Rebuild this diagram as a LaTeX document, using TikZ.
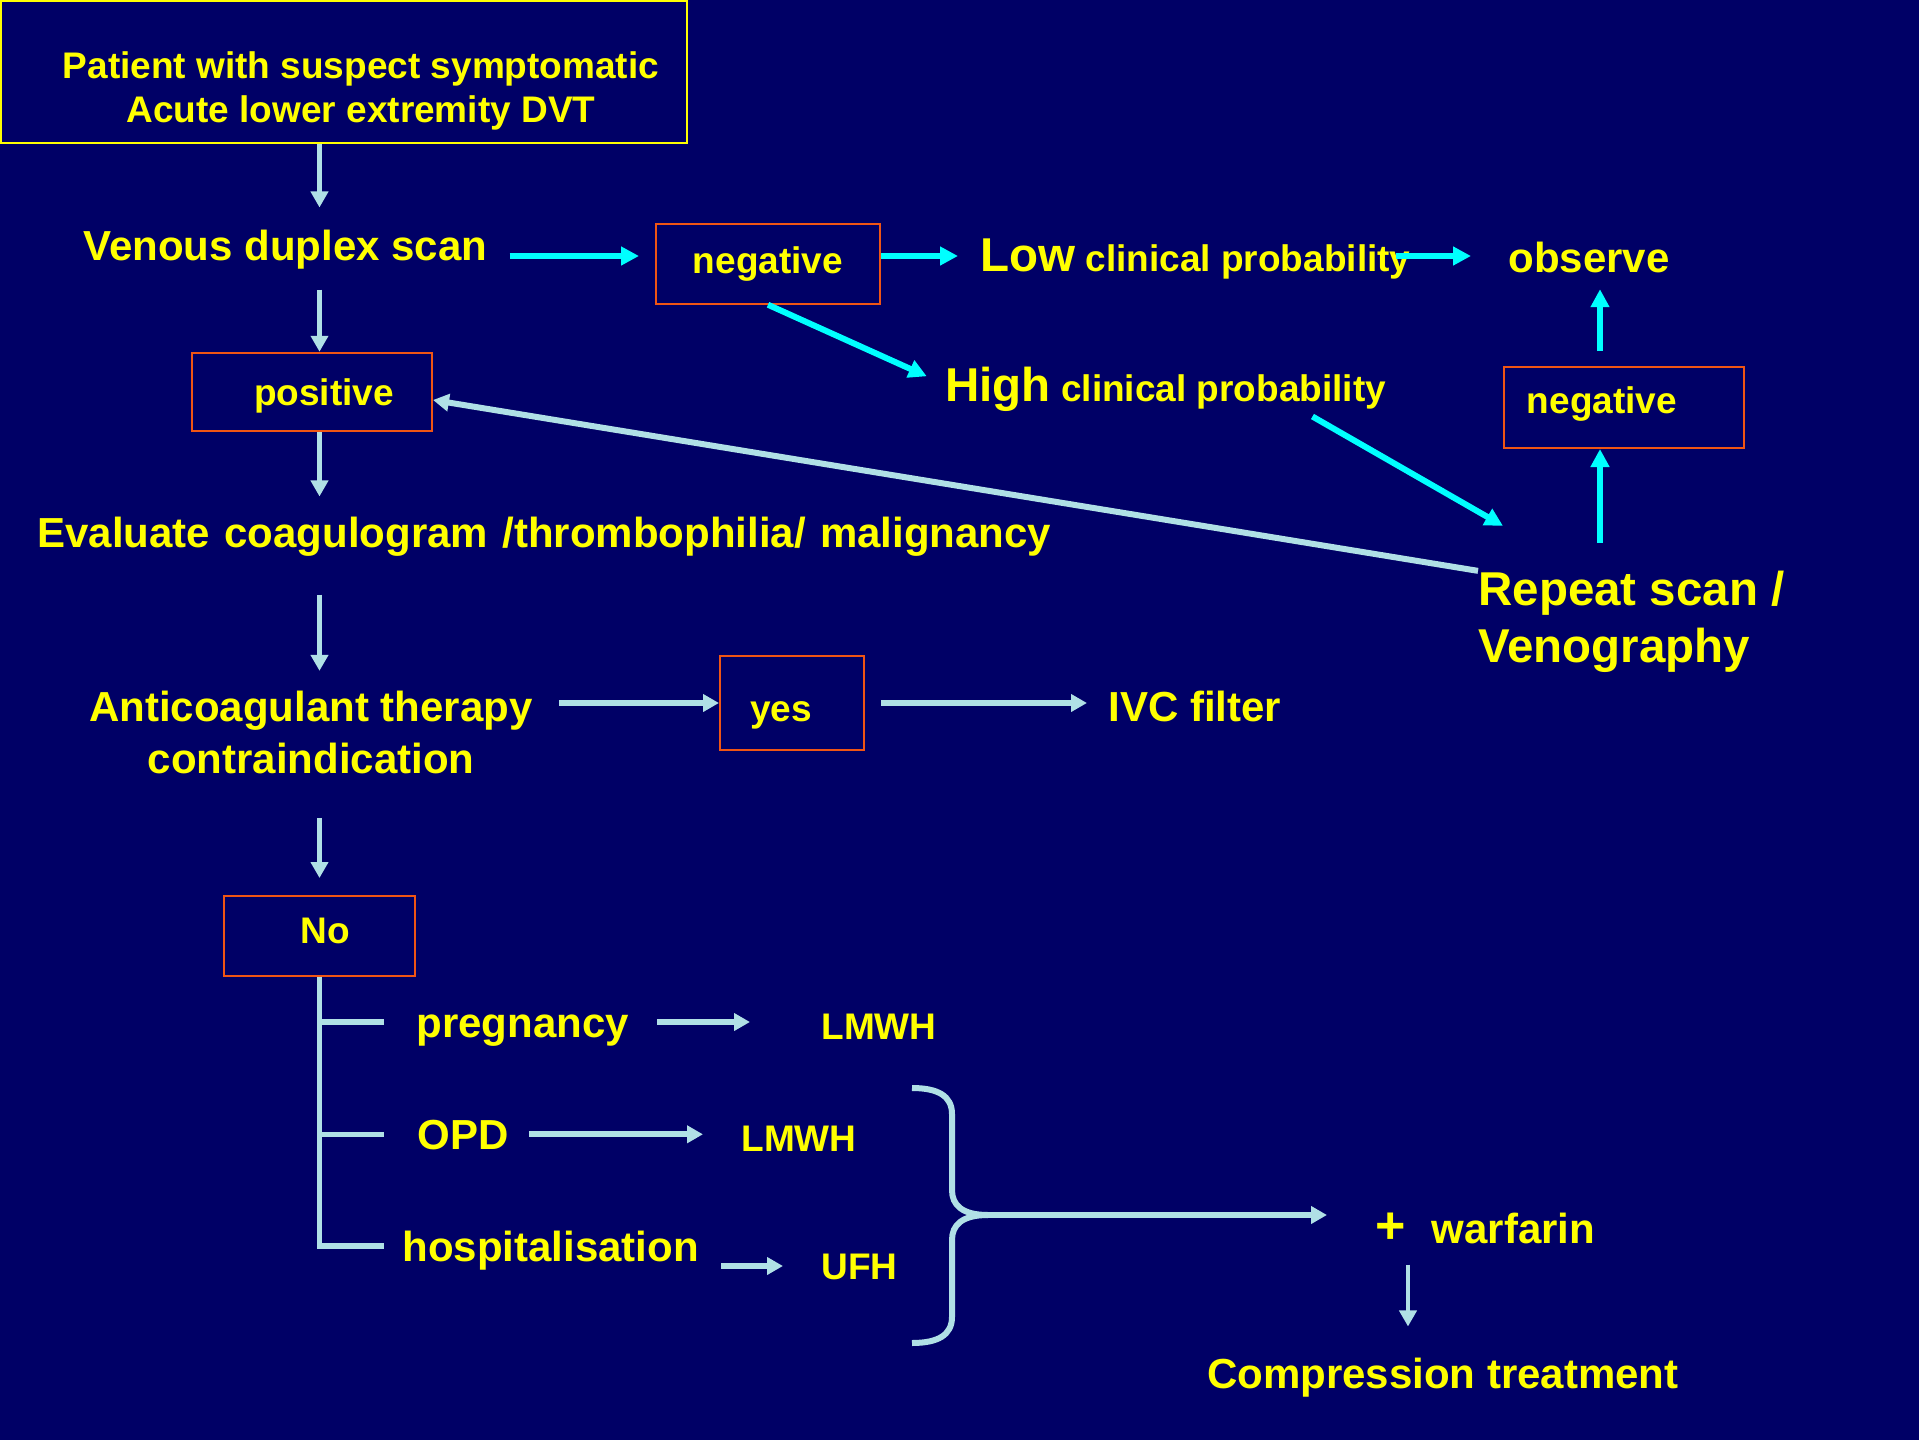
\documentclass[tikz,border=0pt]{standalone}
\usepackage{fontspec}
\setmainfont{Liberation Sans}
\usetikzlibrary{arrows.meta}
\definecolor{bgc}{RGB}{0,0,102}
\definecolor{ylw}{RGB}{255,255,0}
\definecolor{lbl}{RGB}{176,224,230}
\definecolor{cyn}{RGB}{0,255,255}
\definecolor{org}{RGB}{240,85,20}
\newcommand\szS{\fontsize{18.5pt}{22pt}\selectfont}
\newcommand\szM{\fontsize{21pt}{25.7pt}\selectfont}
\newcommand\szL{\fontsize{23.75pt}{28.5pt}\selectfont}
\begin{document}
\begin{tikzpicture}[x=0.5pt,y=-0.5pt,
  txt/.style={inner sep=0pt,text height=15.12pt,text depth=0pt,text=ylw,font=\bfseries\szM},
  tS/.style={txt,font=\bfseries\szS,text height=13.3pt},
  tL/.style={txt,font=\bfseries\szL,text height=17.1pt},
  mline/.style={inner sep=0pt,text=ylw,align=center},
  box/.style={draw=org,line width=1pt,inner sep=0pt,text=ylw,font=\bfseries\szS,text height=13.3pt,text depth=0pt},
  lba/.style={lbl,line width=2.25pt,-{Triangle[length=8pt,width=8.5pt]}},
  lbw/.style={lbl,line width=3pt,-{Triangle[length=8pt,width=8.5pt]}},
  cya/.style={cyn,line width=3pt,-{Triangle[length=9pt,width=9pt]}},
  branch/.style={lbl,line width=2.75pt}
]
\fill[bgc] (0,0) rectangle (1919,1440);
\useasboundingbox (0,0) rectangle (1919,1440);

\coordinate (cx1) at (319.5,0);
\coordinate (cy1) at (0,256);
\coordinate (cx2) at (1600,0);
\coordinate (cx3) at (1408,0);

% nodes
\node[draw=ylw,line width=1.25pt,minimum width=343pt,minimum height=71pt,inner sep=0pt] (top) at (344,72) {};
\node[mline,font=\bfseries\szS] (toptext) at (361,90.7) {Patient with suspect symptomatic\\Acute lower extremity DVT};
\node[txt,anchor=west] (venous) at (83,245) {Venous duplex scan};
\node[box,minimum width=112pt,minimum height=39.75pt,text depth=4pt] (neg1) at (768,264) {negative};
\node[tL,anchor=west] (low) at (980,254) {Low{\szS\ clinical probability}};
\node[txt,anchor=west] (observe) at (1508,257.7) {observe};
\node[tL,anchor=west] (high) at (945,384.5) {High{\szS\ clinical probability}};
\node[box,minimum width=120pt,minimum height=40.5pt,text depth=7.5pt] (neg2) at (1624,407.5) {negative\hspace*{22pt}};
\node[mline,font=\bfseries\szL,align=left,anchor=west] (repeat) at (1478,622) {Repeat scan /\\Venography};
\node[box,minimum width=120pt,minimum height=39.25pt] (pos) at (312,392) {\hspace*{12pt}positive};
\node[txt,anchor=west] (eval) at (37,532) {Evaluate\hspace{1.3pt} coagulogram\hspace{1.3pt} /thrombophilia/\hspace{1.3pt} malignancy};
\node[mline,font=\bfseries\szM] (anti) at (311,732.4) {Anticoagulant therapy\\contraindication};
\node[box,minimum width=72pt,minimum height=47pt,text height=18.9pt] (yes) at (792,703) {yes\hspace*{11pt}};
\node[txt,anchor=west] (ivc) at (1108,706) {IVC filter};
\node[box,minimum width=95.5pt,minimum height=39.75pt,text depth=6pt] (no) at (319.5,935.75) {\hspace*{6pt}No};
\node[txt,anchor=west] (preg) at (416,1022) {pregnancy};
\node[tS,anchor=west] (lmwh1) at (821,1026) {LMWH};
\node[txt,anchor=west] (opd) at (417,1134.3) {OPD};
\node[tS,anchor=west] (lmwh2) at (741,1138.4) {LMWH};
\node[txt,anchor=west] (hosp) at (402,1246) {hospitalisation};
\node[tS,anchor=west] (ufh) at (821,1266) {UFH};
\node[txt,anchor=west] (warf) at (1375,1228) {{\fontsize{26pt}{26pt}\selectfont +}\hspace{13pt}warfarin};
\node[txt] (comp) at (1442.8,1373) {Compression treatment};

% main vertical chain
\draw[lba,shorten >=11pt] (top.south -| cx1) -- (venous.north -| cx1);
\draw[lba,shorten <=14.5pt] (venous.south -| cx1) -- (pos.north -| cx1);
\draw[lba,shorten >=10pt] (pos.south -| cx1) -- (eval.north -| cx1);
\draw[lba,shorten <=23.5pt,shorten >=10pt] (eval.south -| cx1) -- (anti.north -| cx1);
\draw[lba,shorten <=22pt,shorten >=8.5pt] (anti.south -| cx1) -- (no.north);

% branches
\draw[branch] (no.south) |- ([xshift=-9pt]hosp.west);
\draw[branch] (no.south |- preg.west) -- ([xshift=-16pt]preg.west);
\draw[branch] (no.south |- opd.west) -- ([xshift=-16.5pt]opd.west);

% cyan arrows
\draw[cya,shorten <=11pt,shorten >=8pt] (venous.east |- cy1) -- (neg1.west |- cy1);
\draw[cya,shorten >=11pt] (neg1.east |- cy1) -- (low.west |- cy1);
\draw[cya,shorten <=-7.5pt,shorten >=18.5pt] (low.east |- cy1) -- (observe.west |- cy1);
\draw[cya,shorten >=10pt] (neg1.south) -- (high.west);
\draw[cya] ([xshift=-37pt,yshift=-7.25pt]high.south east) -- ([xshift=12.5pt,yshift=22.5pt]repeat.north west);
\draw[cya,shorten <=14pt] (repeat.north -| cx2) -- (neg2.south -| cx2);
\draw[cya,shorten <=7.5pt,shorten >=8pt] (neg2.north -| cx2) -- (observe.south -| cx2);

% long return line
\draw[lbw] (repeat.north west) -- ([yshift=-4pt]pos.east);

% light blue horizontals
\draw[lbw,shorten <=13pt] (anti.east |- yes.west) -- (yes.west);
\draw[lbw,shorten <=8pt,shorten >=10.5pt] (yes.east) -- (ivc.west |- yes.east);
\draw[lbw,shorten <=14pt,shorten >=35.5pt] (preg.east) -- (lmwh1.west |- preg.east);
\draw[lbw,shorten <=10pt,shorten >=19pt] (opd.east) -- (lmwh2.west |- opd.east);
\draw[lbw,shorten <=11pt,shorten >=19pt] (hosp.east |- ufh.west) -- (ufh.west);

% brace
\draw[lbl,line width=3pt] (912,1088) .. controls (938,1088) and (952,1096) .. (952,1114) -- (952,1190) .. controls (952,1205) and (962,1215) .. (988,1215);
\draw[lbl,line width=3pt] (912,1343) .. controls (938,1343) and (952,1335) .. (952,1317) -- (952,1240) .. controls (952,1225) and (962,1215) .. (988,1215);
\coordinate (bt) at (985,1215);
\draw[lbw,shorten >=24pt] (bt) -- (warf.west |- bt);
\draw[lba,shorten <=10.5pt,shorten >=15.5pt] (warf.south -| cx3) -- (comp.north -| cx3);
\end{tikzpicture}
\end{document}
